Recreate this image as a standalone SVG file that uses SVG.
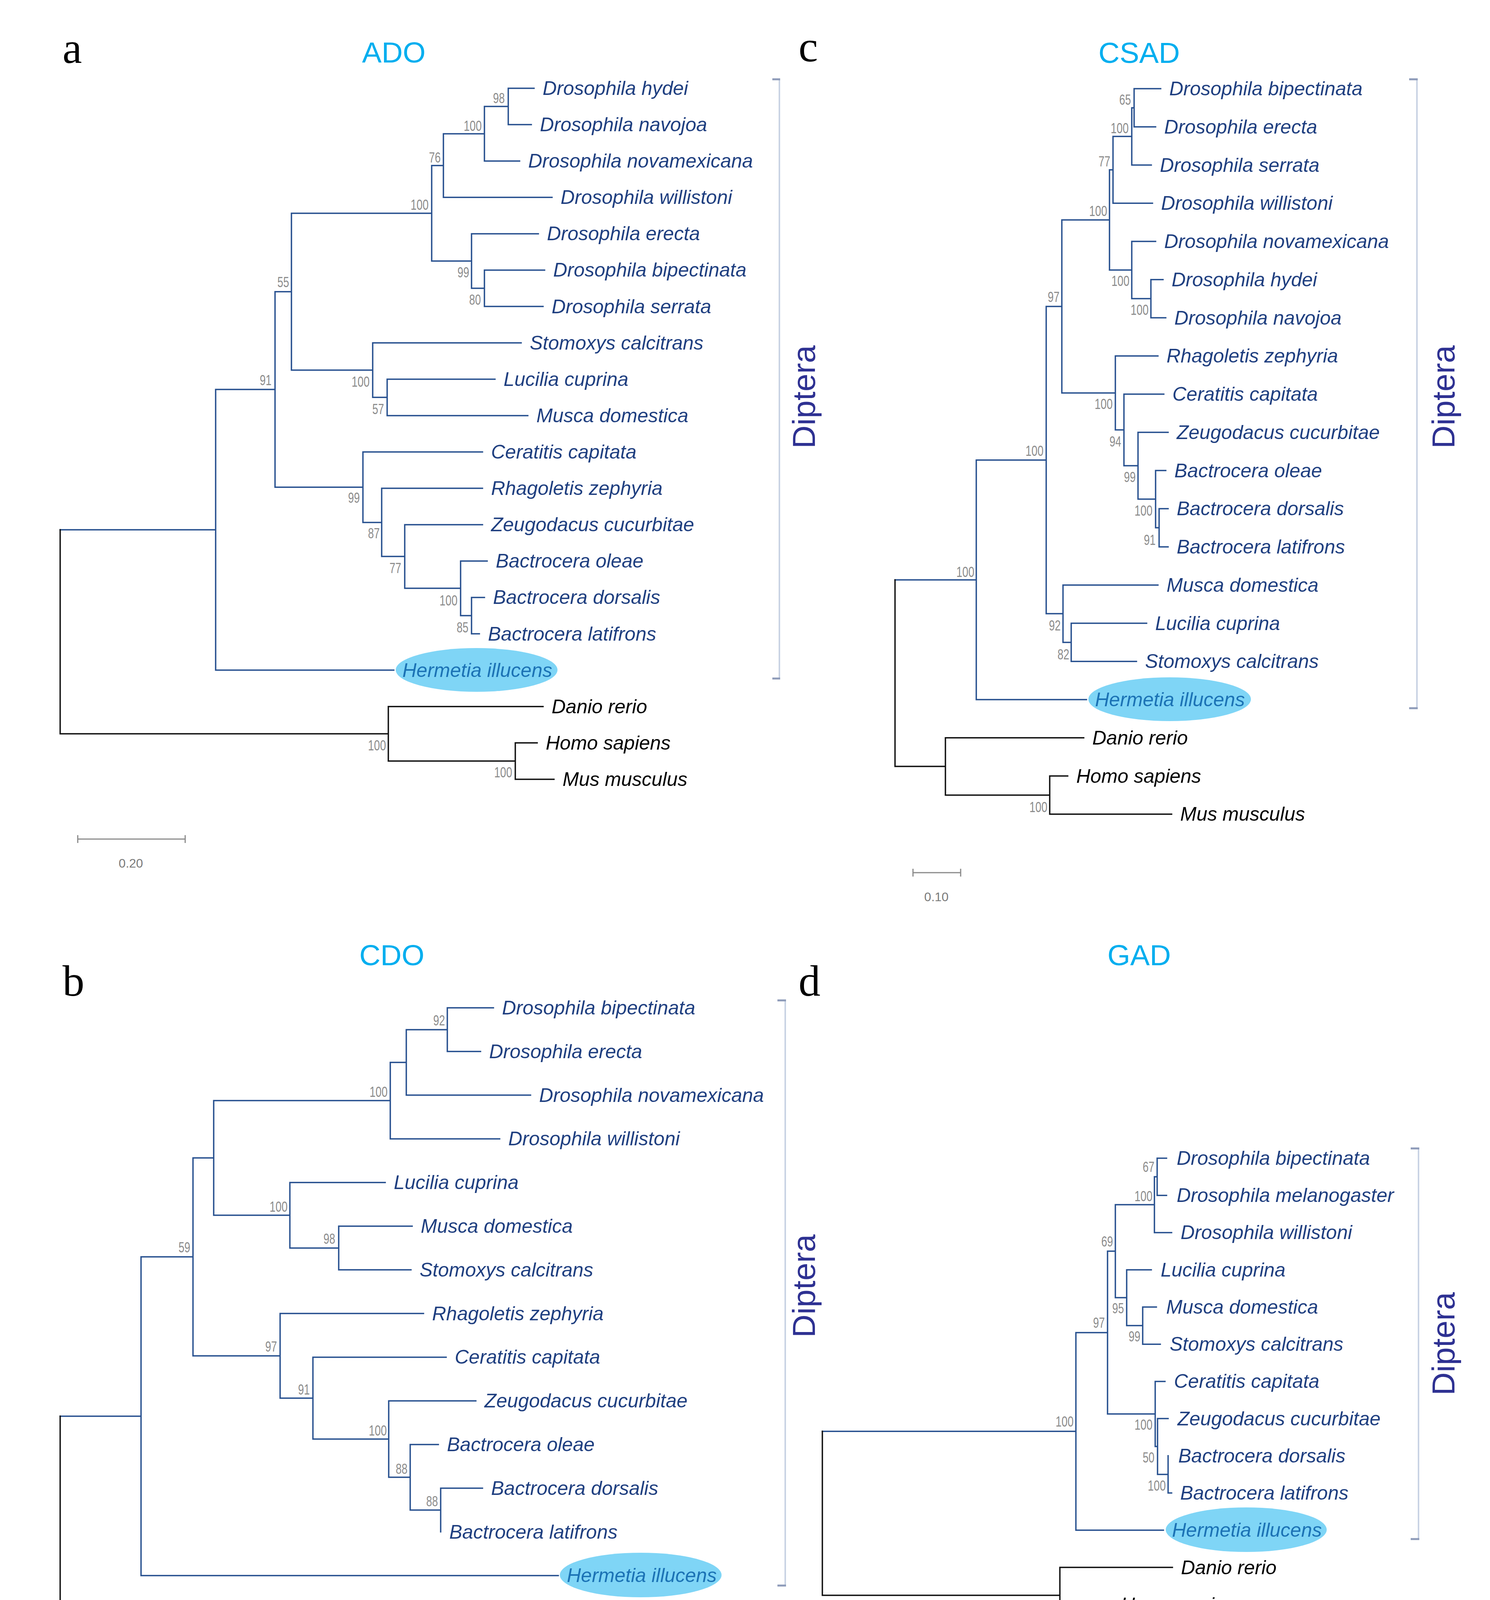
<svg xmlns="http://www.w3.org/2000/svg" width="3814" height="4678" viewBox="0 0 3814 4678">
<style>
.sp{font-family:"Liberation Sans",Arial,sans-serif;font-style:italic;font-size:50px;fill:#1f3f80}
.og{fill:#000}
.hi{fill:#1b72b5}
.bs{font-family:"Liberation Sans",Arial,sans-serif;font-size:36px;fill:#8c8c8c;text-anchor:end}
.br{fill:none;stroke:#27508f;stroke-width:3.5;stroke-linecap:square}
.bk{fill:none;stroke:#111;stroke-width:3.5;stroke-linecap:square}
.ttl{font-family:"Liberation Sans",Arial,sans-serif;font-size:75px;fill:#00aeef;text-anchor:middle}
.let{font-family:"Liberation Serif","Times New Roman",serif;font-size:112px;fill:#000}
.dip{font-family:"Liberation Sans",Arial,sans-serif;font-size:82px;fill:#2e3192;text-anchor:middle}
.brk{fill:none;stroke:#c9d3e4;stroke-width:4}
.tick{fill:none;stroke:#8e9bb9;stroke-width:5}
.sb{fill:none;stroke:#8a8a8a;stroke-width:3}
.sbt{font-family:"Liberation Sans",Arial,sans-serif;font-size:32px;fill:#7a7a7a;text-anchor:middle}
.ell{fill:#7fd5f6}
</style>
<rect width="3814" height="4678" fill="#fff"/>

<!-- ================= PANEL A ================= -->
<g id="panel-a">
<text class="let" x="160" y="161">a</text>
<text class="ttl" x="1008" y="160">ADO</text>
<g id="a-connectors">
<path class="br" d="M1301 226V319.1M1301 226H1367M1301 319.1H1360
M1240 272.5V412.2M1240 272.5H1301M1240 412.2H1330
M1135 342.4V505.3M1135 342.4H1240M1135 505.3H1413
M1240 691.5V784.6M1240 691.5H1394M1240 784.6H1390
M1207 598.4V738M1207 598.4H1378M1207 738H1240
M1105 423.8V668.2M1105 423.8H1135M1105 668.2H1207
M991 970.8V1063.9M991 970.8H1267M991 1063.9H1351
M954 877.7V1017.3M954 877.7H1334M954 1017.3H991
M746 546V947.5M746 546H1105M746 947.5H954
M1207 1529.4V1622.5M1207 1529.4H1240M1207 1622.5H1227
M1179 1436.3V1576M1179 1436.3H1247M1179 1576H1207
M1036 1343.2V1506.1M1036 1343.2H1235M1036 1506.1H1179
M977 1250.1V1424.6M977 1250.1H1235M977 1424.6H1036
M929 1157V1337.4M929 1157H1235M929 1337.4H977
M704 746.8V1247.2M704 746.8H746M704 1247.2H929
M552 997V1715.6M552 997H704M552 1715.6H1008
M154 1356.3H552"/>
<path class="bk" d="M154 1356.3V1878.5M154 1878.5H994M994 1808.7V1948.3M994 1808.7H1390M994 1948.3H1319M1319 1901.8V1994.9M1319 1901.8H1375M1319 1994.9H1418"/>
</g>
<g id="a-bootstrap">
<text class="bs" x="1292" y="264" textLength="30" lengthAdjust="spacingAndGlyphs">98</text>
<text class="bs" x="1233" y="335" textLength="46" lengthAdjust="spacingAndGlyphs">100</text>
<text class="bs" x="1128" y="416" textLength="30" lengthAdjust="spacingAndGlyphs">76</text>
<text class="bs" x="1097" y="537" textLength="46" lengthAdjust="spacingAndGlyphs">100</text>
<text class="bs" x="1201" y="710" textLength="30" lengthAdjust="spacingAndGlyphs">99</text>
<text class="bs" x="1231" y="780" textLength="30" lengthAdjust="spacingAndGlyphs">80</text>
<text class="bs" x="740" y="735" textLength="30" lengthAdjust="spacingAndGlyphs">55</text>
<text class="bs" x="946" y="990" textLength="46" lengthAdjust="spacingAndGlyphs">100</text>
<text class="bs" x="983" y="1060" textLength="30" lengthAdjust="spacingAndGlyphs">57</text>
<text class="bs" x="695" y="986" textLength="30" lengthAdjust="spacingAndGlyphs">91</text>
<text class="bs" x="921" y="1287" textLength="30" lengthAdjust="spacingAndGlyphs">99</text>
<text class="bs" x="972" y="1378" textLength="30" lengthAdjust="spacingAndGlyphs">87</text>
<text class="bs" x="1027" y="1467" textLength="30" lengthAdjust="spacingAndGlyphs">77</text>
<text class="bs" x="1171" y="1550" textLength="46" lengthAdjust="spacingAndGlyphs">100</text>
<text class="bs" x="1199" y="1619" textLength="30" lengthAdjust="spacingAndGlyphs">85</text>
<text class="bs" x="988" y="1921" textLength="46" lengthAdjust="spacingAndGlyphs">100</text>
<text class="bs" x="1311" y="1990" textLength="46" lengthAdjust="spacingAndGlyphs">100</text>
</g>
<g id="a-leaves">
<g id="a-dhydei"><text class="sp" x="1389" y="243">Drosophila hydei</text></g>
<g id="a-dnavojoa"><text class="sp" x="1382" y="336">Drosophila navojoa</text></g>
<g id="a-dnovamexicana"><text class="sp" x="1352" y="429">Drosophila novamexicana</text></g>
<g id="a-dwillistoni"><text class="sp" x="1435" y="522">Drosophila willistoni</text></g>
<g id="a-derecta"><text class="sp" x="1400" y="615">Drosophila erecta</text></g>
<g id="a-dbipectinata"><text class="sp" x="1416" y="708">Drosophila bipectinata</text></g>
<g id="a-dserrata"><text class="sp" x="1412" y="802">Drosophila serrata</text></g>
<g id="a-stomoxys"><text class="sp" x="1356" y="895">Stomoxys calcitrans</text></g>
<g id="a-lucilia"><text class="sp" x="1289" y="988">Lucilia cuprina</text></g>
<g id="a-musca"><text class="sp" x="1373" y="1081">Musca domestica</text></g>
<g id="a-ceratitis"><text class="sp" x="1257" y="1174">Ceratitis capitata</text></g>
<g id="a-rhagoletis"><text class="sp" x="1257" y="1267">Rhagoletis zephyria</text></g>
<g id="a-zeugodacus"><text class="sp" x="1257" y="1360">Zeugodacus cucurbitae</text></g>
<g id="a-boleae"><text class="sp" x="1269" y="1453">Bactrocera oleae</text></g>
<g id="a-bdorsalis"><text class="sp" x="1262" y="1546">Bactrocera dorsalis</text></g>
<g id="a-blatifrons"><text class="sp" x="1249" y="1640">Bactrocera latifrons</text></g>
<g id="a-hermetia"><ellipse class="ell" cx="1220" cy="1715" rx="207" ry="56"/><text class="sp hi" x="1030" y="1733">Hermetia illucens</text></g>
<g id="a-danio"><text class="sp og" x="1412" y="1826">Danio rerio</text></g>
<g id="a-homo"><text class="sp og" x="1397" y="1919">Homo sapiens</text></g>
<g id="a-mus"><text class="sp og" x="1440" y="2012">Mus musculus</text></g>
</g>
<g id="a-diptera">
<path class="brk" d="M1995 203V1737"/>
<path class="tick" d="M1977 203H1997M1977 1737H1997"/>
<text class="dip" x="2086" y="1016" transform="rotate(-90 2086 1016)">Diptera</text>
</g>
<g id="a-scale">
<path class="sb" d="M199 2148H474M199 2138V2158M474 2138V2158"/>
<text class="sbt" x="335" y="2221">0.20</text>
</g>
</g>

<!-- ================= PANEL C ================= -->
<g id="panel-c">
<text class="let" x="2044" y="157">c</text>
<text class="ttl" x="2916" y="161">CSAD</text>
<g id="c-connectors">
<path class="br" d="M2903 227V324.75M2903 227H2971M2903 324.75H2958
M2897 275.9V422.5M2897 275.9H2903M2897 422.5H2947
M2849 349.2V520.25M2849 349.2H2897M2849 520.25H2950
M2946 715.75V813.5M2946 715.75H2977M2946 813.5H2984
M2897 618V764.6M2897 618H2958M2897 764.6H2946
M2840 434.7V691.3M2840 434.7H2849M2840 691.3H2897
M2967 1302.25V1400M2967 1302.25H2990M2967 1400H2990
M2958 1204.5V1351.1M2958 1204.5H2984M2958 1351.1H2967
M2913 1106.75V1277.8M2913 1106.75H2990M2913 1277.8H2958
M2877 1009V1192.3M2877 1009H2979M2877 1192.3H2913
M2855 911.25V1100.6M2855 911.25H2964M2855 1100.6H2877
M2718 563V1005.9M2718 563H2840M2718 1005.9H2855
M2742 1595.5V1693.25M2742 1595.5H2935M2742 1693.25H2909
M2721 1497.75V1644.4M2721 1497.75H2964M2721 1644.4H2742
M2678 784.5V1571.1M2678 784.5H2718M2678 1571.1H2721
M2499 1177.8V1791M2499 1177.8H2678M2499 1791H2781
M2291 1484.4H2499"/>
<path class="bk" d="M2291 1484.4V1962.1M2291 1962.1H2420M2420 1888.75V2035.4M2420 1888.75H2774M2420 2035.4H2687M2687 1986.5V2084.25M2687 1986.5H2733M2687 2084.25H2999"/>
</g>
<g id="c-bootstrap">
<text class="bs" x="2895" y="268" textLength="30" lengthAdjust="spacingAndGlyphs">65</text>
<text class="bs" x="2889" y="341" textLength="46" lengthAdjust="spacingAndGlyphs">100</text>
<text class="bs" x="2842" y="426" textLength="30" lengthAdjust="spacingAndGlyphs">77</text>
<text class="bs" x="2834" y="553" textLength="46" lengthAdjust="spacingAndGlyphs">100</text>
<text class="bs" x="2891" y="732" textLength="46" lengthAdjust="spacingAndGlyphs">100</text>
<text class="bs" x="2940" y="806" textLength="46" lengthAdjust="spacingAndGlyphs">100</text>
<text class="bs" x="2712" y="773" textLength="30" lengthAdjust="spacingAndGlyphs">97</text>
<text class="bs" x="2848" y="1047" textLength="46" lengthAdjust="spacingAndGlyphs">100</text>
<text class="bs" x="2870" y="1143" textLength="30" lengthAdjust="spacingAndGlyphs">94</text>
<text class="bs" x="2671" y="1167" textLength="46" lengthAdjust="spacingAndGlyphs">100</text>
<text class="bs" x="2907" y="1234" textLength="30" lengthAdjust="spacingAndGlyphs">99</text>
<text class="bs" x="2950" y="1320" textLength="46" lengthAdjust="spacingAndGlyphs">100</text>
<text class="bs" x="2958" y="1395" textLength="30" lengthAdjust="spacingAndGlyphs">91</text>
<text class="bs" x="2494" y="1477" textLength="46" lengthAdjust="spacingAndGlyphs">100</text>
<text class="bs" x="2715" y="1614" textLength="30" lengthAdjust="spacingAndGlyphs">92</text>
<text class="bs" x="2737" y="1688" textLength="30" lengthAdjust="spacingAndGlyphs">82</text>
<text class="bs" x="2681" y="2079" textLength="46" lengthAdjust="spacingAndGlyphs">100</text>
</g>
<g id="c-leaves">
<g id="c-dbipectinata"><text class="sp" x="2993" y="244">Drosophila bipectinata</text></g>
<g id="c-derecta"><text class="sp" x="2980" y="342">Drosophila erecta</text></g>
<g id="c-dserrata"><text class="sp" x="2969" y="440">Drosophila serrata</text></g>
<g id="c-dwillistoni"><text class="sp" x="2972" y="537">Drosophila willistoni</text></g>
<g id="c-dnovamexicana"><text class="sp" x="2980" y="635">Drosophila novamexicana</text></g>
<g id="c-dhydei"><text class="sp" x="2999" y="733">Drosophila hydei</text></g>
<g id="c-dnavojoa"><text class="sp" x="3006" y="831">Drosophila navojoa</text></g>
<g id="c-rhagoletis"><text class="sp" x="2986" y="928">Rhagoletis zephyria</text></g>
<g id="c-ceratitis"><text class="sp" x="3001" y="1026">Ceratitis capitata</text></g>
<g id="c-zeugodacus"><text class="sp" x="3012" y="1124">Zeugodacus cucurbitae</text></g>
<g id="c-boleae"><text class="sp" x="3006" y="1222">Bactrocera oleae</text></g>
<g id="c-bdorsalis"><text class="sp" x="3012" y="1319">Bactrocera dorsalis</text></g>
<g id="c-blatifrons"><text class="sp" x="3012" y="1417">Bactrocera latifrons</text></g>
<g id="c-musca"><text class="sp" x="2986" y="1515">Musca domestica</text></g>
<g id="c-lucilia"><text class="sp" x="2957" y="1613">Lucilia cuprina</text></g>
<g id="c-stomoxys"><text class="sp" x="2931" y="1710">Stomoxys calcitrans</text></g>
<g id="c-hermetia"><ellipse class="ell" cx="2994" cy="1790" rx="208" ry="56"/><text class="sp hi" x="2803" y="1808">Hermetia illucens</text></g>
<g id="c-danio"><text class="sp og" x="2796" y="1906">Danio rerio</text></g>
<g id="c-homo"><text class="sp og" x="2755" y="2004">Homo sapiens</text></g>
<g id="c-mus"><text class="sp og" x="3021" y="2101">Mus musculus</text></g>
</g>
<g id="c-diptera">
<path class="brk" d="M3627 203V1813"/>
<path class="tick" d="M3607 203H3629M3607 1813H3629"/>
<text class="dip" x="3723" y="1016" transform="rotate(-90 3723 1016)">Diptera</text>
</g>
<g id="c-scale">
<path class="sb" d="M2337 2234H2459M2337 2224V2244M2459 2224V2244"/>
<text class="sbt" x="2397" y="2307">0.10</text>
</g>
</g>

<!-- ================= PANEL B ================= -->
<g id="panel-b">
<text class="let" x="160" y="2549">b</text>
<text class="ttl" x="1003" y="2471">CDO</text>
<g id="b-connectors">
<path class="br" d="M1145 2580V2691.8M1145 2580H1263M1145 2691.8H1230
M1040 2635.9V2803.6M1040 2635.9H1145M1040 2803.6H1358
M999 2719.75V2915.4M999 2719.75H1040M999 2915.4H1279
M867 3139V3250.8M867 3139H1055M867 3250.8H1052
M742 3027.2V3194.9M742 3027.2H986M742 3194.9H867
M547 2817.6V3111.05M547 2817.6H999M547 3111.05H742
M1128 3809.8V3921.6M1128 3809.8H1235
M1050 3698V3865.7M1050 3698H1122M1050 3865.7H1128
M995 3586.2V3781.85M995 3586.2H1218M995 3781.85H1050
M801 3474.4V3684M801 3474.4H1142M801 3684H995
M717 3362.6V3579.2M717 3362.6H1084M717 3579.2H801
M494 2964.3V3470.9M494 2964.3H547M494 3470.9H717
M361 3217.6V4033.4M361 3217.6H494M361 4033.4H1429
M154 3625.5H361"/>
<path class="bk" d="M154 3625.5V4229.05M154 4229.05H860M860 4145.2V4312.9M860 4145.2H1276M860 4312.9H1269M1269 4257V4368.8M1269 4257H1350M1269 4368.8H1426"/>
</g>
<g id="b-bootstrap">
<text class="bs" x="1139" y="2625" textLength="30" lengthAdjust="spacingAndGlyphs">92</text>
<text class="bs" x="992" y="2808" textLength="46" lengthAdjust="spacingAndGlyphs">100</text>
<text class="bs" x="736" y="3102" textLength="46" lengthAdjust="spacingAndGlyphs">100</text>
<text class="bs" x="858" y="3184" textLength="30" lengthAdjust="spacingAndGlyphs">98</text>
<text class="bs" x="487" y="3206" textLength="30" lengthAdjust="spacingAndGlyphs">59</text>
<text class="bs" x="709" y="3460" textLength="30" lengthAdjust="spacingAndGlyphs">97</text>
<text class="bs" x="793" y="3570" textLength="30" lengthAdjust="spacingAndGlyphs">91</text>
<text class="bs" x="990" y="3675" textLength="46" lengthAdjust="spacingAndGlyphs">100</text>
<text class="bs" x="1043" y="3773" textLength="30" lengthAdjust="spacingAndGlyphs">88</text>
<text class="bs" x="1121" y="3856" textLength="30" lengthAdjust="spacingAndGlyphs">88</text>
<text class="bs" x="852" y="4220" textLength="46" lengthAdjust="spacingAndGlyphs">100</text>
<text class="bs" x="1263" y="4304" textLength="46" lengthAdjust="spacingAndGlyphs">100</text>
</g>
<g id="b-leaves">
<g id="b-dbipectinata"><text class="sp" x="1285" y="2597">Drosophila bipectinata</text></g>
<g id="b-derecta"><text class="sp" x="1252" y="2709">Drosophila erecta</text></g>
<g id="b-dnovamexicana"><text class="sp" x="1380" y="2821">Drosophila novamexicana</text></g>
<g id="b-dwillistoni"><text class="sp" x="1301" y="2932">Drosophila willistoni</text></g>
<g id="b-lucilia"><text class="sp" x="1008" y="3044">Lucilia cuprina</text></g>
<g id="b-musca"><text class="sp" x="1077" y="3156">Musca domestica</text></g>
<g id="b-stomoxys"><text class="sp" x="1074" y="3268">Stomoxys calcitrans</text></g>
<g id="b-rhagoletis"><text class="sp" x="1106" y="3380">Rhagoletis zephyria</text></g>
<g id="b-ceratitis"><text class="sp" x="1164" y="3491">Ceratitis capitata</text></g>
<g id="b-zeugodacus"><text class="sp" x="1240" y="3603">Zeugodacus cucurbitae</text></g>
<g id="b-boleae"><text class="sp" x="1144" y="3715">Bactrocera oleae</text></g>
<g id="b-bdorsalis"><text class="sp" x="1257" y="3827">Bactrocera dorsalis</text></g>
<g id="b-blatifrons"><text class="sp" x="1150" y="3939">Bactrocera latifrons</text></g>
<g id="b-hermetia"><ellipse class="ell" cx="1640" cy="4032" rx="207" ry="57"/><text class="sp hi" x="1451" y="4050">Hermetia illucens</text></g>
<g id="b-danio"><text class="sp og" x="1298" y="4162">Danio rerio</text></g>
<g id="b-homo"><text class="sp og" x="1372" y="4274">Homo sapiens</text></g>
<g id="b-mus"><text class="sp og" x="1448" y="4386">Mus musculus</text></g>
</g>
<g id="b-diptera">
<path class="brk" d="M2010 2561V4059"/>
<path class="tick" d="M1990 2561H2012M1990 4059H2012"/>
<text class="dip" x="2086" y="3292" transform="rotate(-90 2086 3292)">Diptera</text>
</g>
<g id="b-scale">
<path class="sb" d="M199 4545H792M199 4535V4555M792 4535V4555"/>
<text class="sbt" x="495" y="4619">0.20</text>
</g>
</g>

<!-- ================= PANEL D ================= -->
<g id="panel-d">
<text class="let" x="2044" y="2549">d</text>
<text class="ttl" x="2916" y="2471">GAD</text>
<g id="d-connectors">
<path class="br" d="M2962 2965V3060.2M2962 2965H2986M2962 3060.2H2986
M2955 3012.6V3155.5M2955 3012.6H2962M2955 3155.5H2999
M2925 3345.9V3441.2M2925 3345.9H2960M2925 3441.2H2970
M2884 3250.7V3393.55M2884 3250.7H2947M2884 3393.55H2925
M2855 3084.05V3322.1M2855 3084.05H2955M2855 3322.1H2884
M2990 3726.8V3822.1M2990 3822.1H2999
M2963 3631.6V3774.45M2963 3631.6H2990M2963 3774.45H2990
M2957 3536.4V3703M2957 3536.4H2982M2957 3703H2963
M2835 3203.1V3619.7M2835 3203.1H2855M2835 3619.7H2957
M2754 3411.4V3917.3M2754 3411.4H2835M2754 3917.3H2978
M2105 3664.35H2754"/>
<path class="bk" d="M2105 3664.35V4083.95M2105 4083.95H2713M2713 4012.5V4155.4M2713 4012.5H3001M2713 4155.4H2824M2824 4107.8V4203M2824 4107.8H2847M2824 4203H2873"/>
</g>
<g id="d-bootstrap">
<text class="bs" x="2955" y="3000" textLength="30" lengthAdjust="spacingAndGlyphs">67</text>
<text class="bs" x="2950" y="3075" textLength="46" lengthAdjust="spacingAndGlyphs">100</text>
<text class="bs" x="2849" y="3191" textLength="30" lengthAdjust="spacingAndGlyphs">69</text>
<text class="bs" x="2877" y="3362" textLength="30" lengthAdjust="spacingAndGlyphs">95</text>
<text class="bs" x="2828" y="3399" textLength="30" lengthAdjust="spacingAndGlyphs">97</text>
<text class="bs" x="2919" y="3434" textLength="30" lengthAdjust="spacingAndGlyphs">99</text>
<text class="bs" x="2748" y="3652" textLength="46" lengthAdjust="spacingAndGlyphs">100</text>
<text class="bs" x="2950" y="3660" textLength="46" lengthAdjust="spacingAndGlyphs">100</text>
<text class="bs" x="2955" y="3744" textLength="30" lengthAdjust="spacingAndGlyphs">50</text>
<text class="bs" x="2984" y="3816" textLength="46" lengthAdjust="spacingAndGlyphs">100</text>
<text class="bs" x="2818" y="4198" textLength="30" lengthAdjust="spacingAndGlyphs">99</text>
</g>
<g id="d-leaves">
<g id="d-dbipectinata"><text class="sp" x="3012" y="2982">Drosophila bipectinata</text></g>
<g id="d-dmelanogaster"><text class="sp" x="3012" y="3077">Drosophila melanogaster</text></g>
<g id="d-dwillistoni"><text class="sp" x="3022" y="3172">Drosophila willistoni</text></g>
<g id="d-lucilia"><text class="sp" x="2971" y="3268">Lucilia cuprina</text></g>
<g id="d-musca"><text class="sp" x="2985" y="3363">Musca domestica</text></g>
<g id="d-stomoxys"><text class="sp" x="2994" y="3458">Stomoxys calcitrans</text></g>
<g id="d-ceratitis"><text class="sp" x="3005" y="3553">Ceratitis capitata</text></g>
<g id="d-zeugodacus"><text class="sp" x="3014" y="3649">Zeugodacus cucurbitae</text></g>
<g id="d-bdorsalis"><text class="sp" x="3016" y="3744">Bactrocera dorsalis</text></g>
<g id="d-blatifrons"><text class="sp" x="3021" y="3839">Bactrocera latifrons</text></g>
<g id="d-hermetia"><ellipse class="ell" cx="3190" cy="3916" rx="206" ry="57"/><text class="sp hi" x="3000" y="3934">Hermetia illucens</text></g>
<g id="d-danio"><text class="sp og" x="3023" y="4030">Danio rerio</text></g>
<g id="d-homo"><text class="sp og" x="2869" y="4125">Homo sapiens</text></g>
<g id="d-mus"><text class="sp og" x="2896" y="4220">Mus musculus</text></g>
</g>
<g id="d-diptera">
<path class="brk" d="M3631 2940V3940"/>
<path class="tick" d="M3611 2940H3633M3611 3940H3633"/>
<text class="dip" x="3723" y="3440" transform="rotate(-90 3723 3440)">Diptera</text>
</g>
<g id="d-scale">
<path class="sb" d="M2151 4348H2408M2151 4338V4358M2408 4338V4358"/>
<text class="sbt" x="2278" y="4423">0.10</text>
</g>
</g>
</svg>
